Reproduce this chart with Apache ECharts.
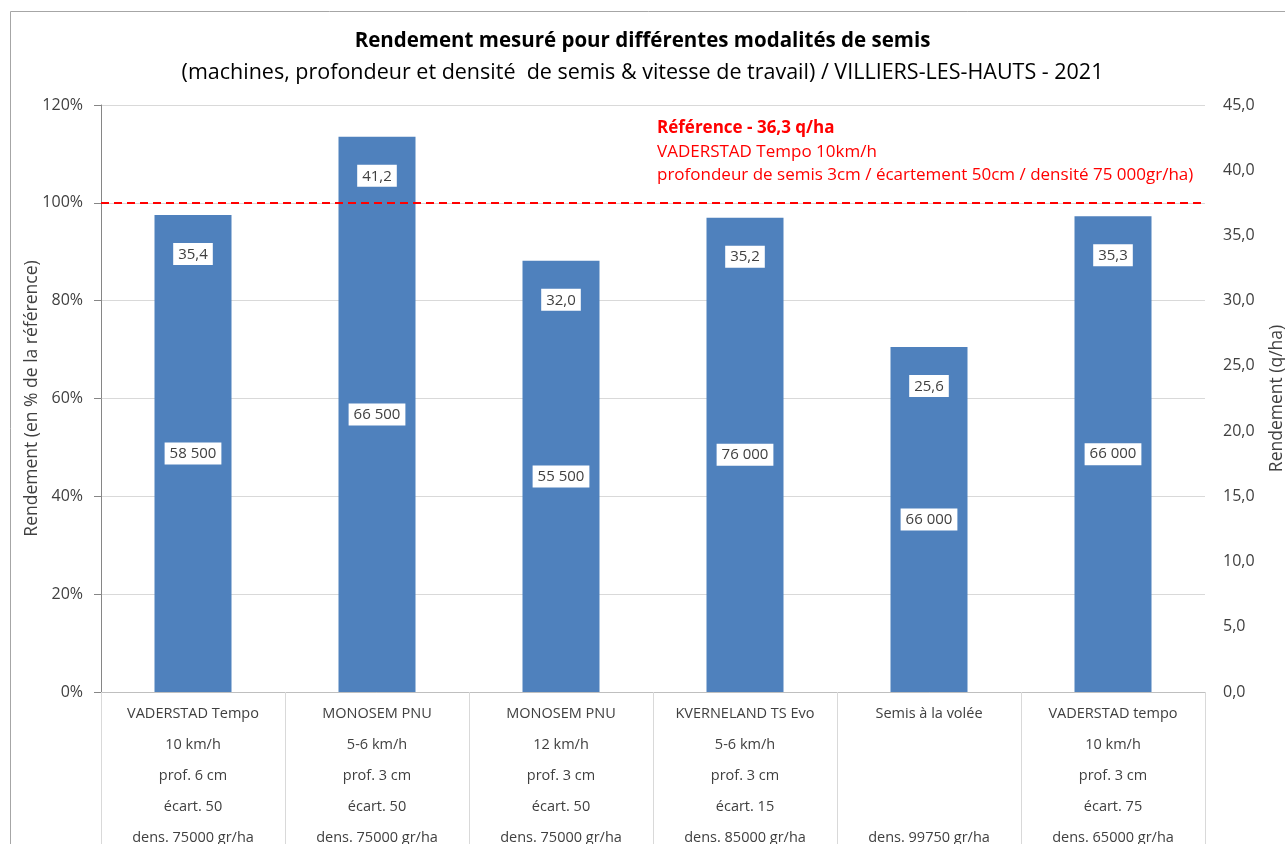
<!DOCTYPE html>
<html>
<head>
<meta charset="utf-8">
<title>Rendement mesuré pour différentes modalités de semis</title>
<script src="https://cdn.jsdelivr.net/npm/echarts@6/dist/echarts.min.js"></script>
<style>
  html, body { margin: 0; padding: 0; background: #fff; }
  #graph { width: 1285px; height: 844px; }
</style>
</head>
<body>
<div id="graph"></div>
<script>
// rendement de référence (q/ha)
const reference = 36.3;

// libellés des modalités (5 lignes par modalité)
const machines = ['VADERSTAD Tempo', 'MONOSEM PNU', 'MONOSEM PNU', 'KVERNELAND TS Evo', 'Semis à la volée', 'VADERSTAD tempo'];
const vitesses = ['10 km/h', '5-6 km/h', '12 km/h', '5-6 km/h', '', '10 km/h'];
const profondeurs = ['prof. 6 cm', 'prof. 3 cm', 'prof. 3 cm', 'prof. 3 cm', '', 'prof. 3 cm'];
const ecartements = ['écart. 50', 'écart. 50', 'écart. 50', 'écart. 15', '', 'écart. 75'];
const densitesSemis = ['dens. 75000 gr/ha', 'dens. 75000 gr/ha', 'dens. 75000 gr/ha', 'dens. 85000 gr/ha', 'dens. 99750 gr/ha', 'dens. 65000 gr/ha'];

// rendement mesuré (q/ha) et densité levée (plantes/ha)
const rendements = [35.4, 41.2, 32.0, 35.2, 25.6, 35.3];
const densites = ['58 500', '66 500', '55 500', '76 000', '66 000', '66 000'];

const categories = machines.map((m, i) =>
    [m, vitesses[i], profondeurs[i], ecartements[i], densitesSemis[i]].join('\n'));
const pourcentages = rendements.map(v => v / reference * 100);

const font = '"Open Sans", "Noto Sans", sans-serif';
const txt = '#404040';
const grille = '#d9d9d9';

const labelBox = {
    show: true,
    backgroundColor: '#fff',
    padding: [4, 5, 3, 5],
    color: txt,
    fontSize: 15,
    fontFamily: font
};

let myChart = echarts.init(document.getElementById('graph'));
myChart.setOption({
    animation: false,
    textStyle: {fontFamily: font},
    title: {
        text: 'Rendement mesuré pour différentes modalités de semis',
        subtext: '(machines, profondeur et densité  de semis & vitesse de travail) / VILLIERS-LES-HAUTS - 2021',
        left: 'center',
        top: 26,
        itemGap: 10,
        textStyle: {fontSize: 20.5, fontWeight: 'bold', color: '#000', fontFamily: font},
        subtextStyle: {fontSize: 21.5, color: '#000', fontFamily: font}
    },
    graphic: [
        {type: 'rect', left: 8, top: 9, shape: {width: 1290, height: 850},
            style: {fill: 'none', stroke: '#a6a6a6', lineWidth: 1}, silent: true},
        {type: 'text', left: 657, top: 120,
            style: {text: 'Référence - 36,3 q/ha', fill: '#ff0000', font: 'bold 17px ' + font}},
        {type: 'text', left: 657, top: 144,
            style: {text: 'VADERSTAD Tempo 10km/h', fill: '#ff0000', font: '17px ' + font}},
        {type: 'text', left: 657, top: 167,
            style: {text: 'profondeur de semis 3cm / écartement 50cm / densité 75 000gr/ha)', fill: '#ff0000', font: '17px ' + font}}
    ],
    grid: {left: 101, right: 80, top: 105, bottom: 152, outerBoundsMode: 'none'},
    xAxis: {
        type: 'category',
        data: categories,
        axisLine: {lineStyle: {color: '#bfbfbf'}},
        axisTick: {show: true, interval: 0, length: 160, lineStyle: {color: grille}},
        axisLabel: {interval: 0, color: txt, fontSize: 14.5, lineHeight: 31, margin: 6, fontFamily: font}
    },
    yAxis: [{
        type: 'value',
        min: 0, max: 120, interval: 20,
        name: 'Rendement (en % de la référence)',
        nameLocation: 'middle',
        nameGap: 60,
        nameMoveOverlap: false,
        nameTextStyle: {color: txt, fontSize: 17.5, fontFamily: font},
        axisLine: {show: true, lineStyle: {color: '#868686'}},
        axisTick: {show: true, length: 7, lineStyle: {color: '#868686'}},
        axisLabel: {formatter: '{value}%', color: txt, fontSize: 16, margin: 18, fontFamily: font},
        splitLine: {lineStyle: {color: grille}}
    }, {
        type: 'value',
        min: 0, max: 45, interval: 5,
        name: 'Rendement (q/ha)',
        nameLocation: 'middle',
        nameGap: 63,
        nameMoveOverlap: false,
        nameRotate: 90,
        nameTextStyle: {color: txt, fontSize: 17.5, fontFamily: font},
        axisLine: {show: false},
        axisTick: {show: false},
        splitLine: {show: false},
        axisLabel: {
            formatter: v => v.toFixed(1).replace('.', ','),
            color: txt, fontSize: 16, margin: 18, fontFamily: font
        }
    }],
    series: [{
        name: 'densité',
        type: 'bar',
        data: pourcentages,
        barWidth: 77,
        itemStyle: {color: '#4f81bd'},
        label: Object.assign({}, labelBox, {
            position: 'inside',
            formatter: p => densites[p.dataIndex]
        }),
        markLine: {
            silent: true,
            symbol: 'none',
            label: {show: false},
            lineStyle: {color: '#ff0000', type: [8, 5], width: 2},
            data: [{yAxis: 100}]
        }
    }, {
        name: 'rendement',
        type: 'bar',
        data: pourcentages,
        barWidth: 77,
        barGap: '-100%',
        itemStyle: {color: 'transparent'},
        label: Object.assign({}, labelBox, {
            position: 'insideTop',
            distance: 28,
            formatter: p => rendements[p.dataIndex].toFixed(1).replace('.', ',')
        })
    }]
});
</script>
</body>
</html>
